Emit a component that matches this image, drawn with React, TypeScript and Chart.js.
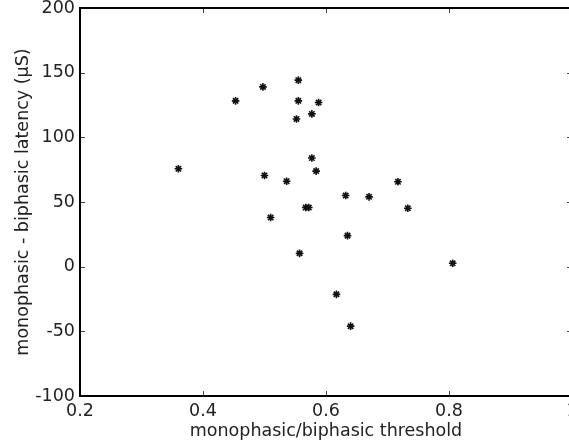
import React, { useEffect, useRef } from "react";
import { Chart, registerables } from "chart.js";

Chart.register(...registerables);

const thresholdRatio = [0.36, 0.453, 0.4975, 0.555, 0.555, 0.588, 0.577, 0.552, 0.577, 0.584, 0.5, 0.536, 0.51, 0.567, 0.572, 0.632, 0.67, 0.717, 0.733, 0.635, 0.557, 0.806, 0.617, 0.64];
const latencyDiff = [75.7, 128.2, 139, 144.2, 128.2, 126.9, 118.1, 114.2, 84, 73.9, 70.5, 66.1, 38, 45.7, 45.7, 55, 54, 65.6, 45.2, 24, 10.3, 2.6, -21.4, -46];

const xTitle = "monophasic/biphasic threshold";
const yTitle = "monophasic - biphasic latency (\u00b5S)";
const xMin = 0.2, xMax = 1.0, xStep = 0.2;
const yMin = -100, yMax = 200, yStep = 50;

const FONT = "'DejaVu Sans', 'Liberation Sans', Arial, sans-serif";
const FSIZE = 17.5;

const framePlugin = {
  id: "matlabFrame",
  afterDraw(chart: any) {
    const { ctx, chartArea, scales } = chart;
    const { left, right, top, bottom } = chartArea;
    const x = scales.x, y = scales.y;
    const tl = 5;
    ctx.save();
    ctx.strokeStyle = "#444";
    ctx.lineWidth = 1;
    ctx.beginPath();
    x.ticks.forEach((t: any) => {
      const px = Math.round(x.getPixelForValue(t.value)) + 0.5;
      ctx.moveTo(px, bottom); ctx.lineTo(px, bottom - tl);
      ctx.moveTo(px, top); ctx.lineTo(px, top + tl);
    });
    y.ticks.forEach((t: any) => {
      const py = Math.round(y.getPixelForValue(t.value)) + 0.5;
      ctx.moveTo(left, py); ctx.lineTo(left + tl, py);
      ctx.moveTo(right, py); ctx.lineTo(right - tl, py);
    });
    ctx.stroke();
    ctx.strokeStyle = "#000";
    ctx.lineWidth = 2;
    ctx.strokeRect(left, top, right - left, bottom - top);
    ctx.restore();
  },
};

export default function App() {
  const ref = useRef<HTMLCanvasElement | null>(null);
  useEffect(() => {
    if (!ref.current) return;
    const data = thresholdRatio.map((v, i) => ({ x: v, y: latencyDiff[i] }));
    const chart = new Chart(ref.current, {
      type: "scatter",
      data: {
        datasets: [
          {
            data,
            pointStyle: "star",
            radius: 3.8,
            borderColor: "#111",
            backgroundColor: "#111",
            borderWidth: 1.6,
          },
        ],
      },
      options: {
        animation: false,
        responsive: false,
        devicePixelRatio: 1,
        layout: { padding: { top: 8, right: 8, bottom: 0, left: 0 } },
        plugins: { legend: { display: false }, tooltip: { enabled: false } },
        scales: {
          x: {
            type: "linear",
            min: xMin,
            max: xMax,
            grid: { display: false, drawTicks: false },
            border: { display: false },
            ticks: {
              stepSize: xStep,
              padding: 5,
              color: "#222",
              font: { family: FONT, size: FSIZE },
              maxRotation: 0,
              callback: (v: any) => String(Number(Number(v).toFixed(1))),
            },
            title: {
              display: true,
              text: xTitle,
              color: "#222",
              font: { family: FONT, size: FSIZE },
              padding: { top: 0, bottom: 4.5 },
            },
            afterFit: (s: any) => {
              s.height = 50;
              s.paddingLeft = 0;
              s.paddingRight = 0;
            },
          },
          y: {
            type: "linear",
            min: yMin,
            max: yMax,
            grid: { display: false, drawTicks: false },
            border: { display: false },
            ticks: {
              stepSize: yStep,
              padding: 5,
              color: "#222",
              font: { family: FONT, size: FSIZE },
            },
            title: {
              display: true,
              text: yTitle,
              color: "#222",
              font: { family: FONT, size: FSIZE },
              padding: { top: 12.5, bottom: 0 },
            },
            afterFit: (s: any) => {
              s.width = 80;
              s.paddingTop = 0;
              s.paddingBottom = 0;
            },
          },
        },
      },
      plugins: [framePlugin],
    });
    return () => chart.destroy();
  }, []);
  return (
    <div style={{ position: "fixed", left: 0, top: 0, width: 569, height: 446, overflow: "hidden", background: "#fff" }}>
      <canvas ref={ref} width={580} height={446} style={{ display: "block" }} />
    </div>
  );
}
